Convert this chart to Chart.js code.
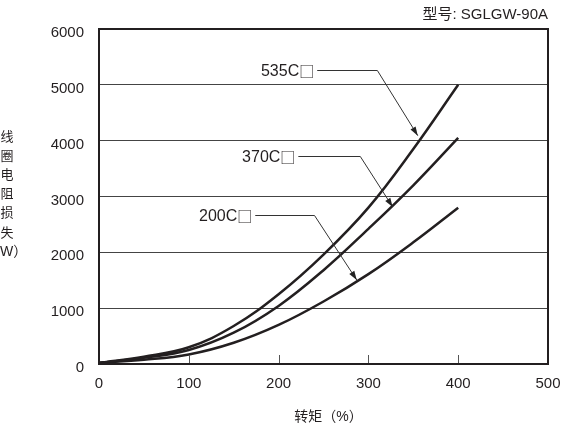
<!DOCTYPE html>
<html>
<head>
<meta charset="utf-8">
<script src="https://cdn.jsdelivr.net/npm/chart.js@4"></script>
<style>
  html, body { margin: 0; padding: 0; background: #fff; }
  #wrap { width: 571px; height: 424px; position: relative; }
</style>
</head>
<body>
<div id="wrap"><canvas id="chart"></canvas></div>
<script>
const TORQUE = [0, 50, 100, 150, 200, 250, 300, 350, 400];
const LOSS_535C = [20, 130, 300, 680, 1250, 1960, 2800, 3850, 5000];
const LOSS_370C = [20, 110, 250, 560, 1040, 1680, 2420, 3200, 4050];
const LOSS_200C = [20, 75, 170, 380, 700, 1120, 1610, 2180, 2800];
const X_TICKS = [0, 100, 200, 300, 400, 500];
const Y_TICKS = [0, 1000, 2000, 3000, 4000, 5000, 6000];

const MODEL = '型号: SGLGW-90A';
const X_TITLE = '转矩（%）';
const Y_TITLE = ['线', '圈', '电', '阻', '损', '失', '（W）'];

// callouts in data units: label, leader start, elbow, arrow tip
const callouts = [
  { name: '535C', box: '□', start: [243, 5270], elbow: [310, 5270], tip: [355, 4090] },
  { name: '370C', box: '□', start: [222, 3728], elbow: [291, 3728], tip: [327, 2814] },
  { name: '200C', box: '□', start: [174, 2670], elbow: [240, 2670], tip: [287, 1505] },
];

const INK = '#231f20';
const FONT = '"Liberation Sans", Arial, "Noto Sans CJK SC", sans-serif';
const CJK = '"Noto Sans CJK SC", sans-serif';

function series(values) {
  return TORQUE.map((t, i) => ({ x: t, y: values[i] }));
}

const decorations = {
  id: 'decorations',
  afterDatasetsDraw(chart) {
    const { ctx, chartArea: a, scales: { x, y } } = chart;
    ctx.save();

    // small inward ticks on the bottom axis
    ctx.strokeStyle = '#555';
    ctx.lineWidth = 1;
    [100, 200, 300, 400].forEach((v) => {
      const px = Math.round(x.getPixelForValue(v)) + 0.5;
      ctx.beginPath();
      ctx.moveTo(px, a.bottom);
      ctx.lineTo(px, a.bottom - 9);
      ctx.stroke();
    });

    // frame
    ctx.strokeStyle = INK;
    ctx.lineWidth = 2;
    ctx.strokeRect(a.left, a.top, a.right - a.left, a.bottom - a.top);

    // callouts
    ctx.textBaseline = 'middle';
    ctx.textAlign = 'right';
    callouts.forEach((c) => {
      const sx = x.getPixelForValue(c.start[0]);
      const sy = Math.round(y.getPixelForValue(c.start[1])) + 0.5;
      const ex = x.getPixelForValue(c.elbow[0]);
      const ey = Math.round(y.getPixelForValue(c.elbow[1])) + 0.5;
      const tx = x.getPixelForValue(c.tip[0]);
      const ty = y.getPixelForValue(c.tip[1]);
      ctx.fillStyle = INK;
      ctx.font = '15px ' + CJK;
      const bw = ctx.measureText(c.box).width;
      ctx.fillText(c.box, sx - 3, sy + 1);
      ctx.font = '16px ' + FONT;
      ctx.fillText(c.name, sx - 3 - bw, sy + 1);

      ctx.strokeStyle = '#333';
      ctx.lineWidth = 1;
      ctx.beginPath();
      ctx.moveTo(sx, sy);
      ctx.lineTo(ex, ey);
      ctx.lineTo(tx, ty);
      ctx.stroke();

      const ang = Math.atan2(ty - ey, tx - ex);
      const len = 9, half = 3;
      ctx.fillStyle = '#222';
      ctx.beginPath();
      ctx.moveTo(tx, ty);
      ctx.lineTo(tx - len * Math.cos(ang) + half * Math.sin(ang), ty - len * Math.sin(ang) - half * Math.cos(ang));
      ctx.lineTo(tx - len * Math.cos(ang) - half * Math.sin(ang), ty - len * Math.sin(ang) + half * Math.cos(ang));
      ctx.closePath();
      ctx.fill();
    });

    // titles
    ctx.fillStyle = INK;
    ctx.font = '15px ' + FONT;
    ctx.textAlign = 'right';
    ctx.fillText(MODEL, a.right, 15);

    ctx.font = '14px ' + FONT;
    ctx.textAlign = 'center';
    ctx.fillText(X_TITLE, (a.left + a.right) / 2 + 5, 417);

    Y_TITLE.forEach((ch, i) => {
      if (ch.length > 1) {
        ctx.font = '14px ' + FONT;
        ctx.textAlign = 'left';
        ctx.fillText(ch, -14, 137 + i * 19.2);
      } else {
        ctx.font = '13px ' + FONT;
        ctx.textAlign = 'center';
        ctx.fillText(ch, 7, 137 + i * 19.2);
      }
    });
    ctx.restore();
  },
};

new Chart(document.getElementById('chart'), {
  type: 'line',
  data: {
    datasets: [
      { label: '535C□', data: series(LOSS_535C) },
      { label: '370C□', data: series(LOSS_370C) },
      { label: '200C□', data: series(LOSS_200C) },
    ].map((d) => ({
      ...d,
      borderColor: INK,
      borderWidth: 2.5,
      pointRadius: 0,
      tension: 0.4,
      fill: false,
    })),
  },
  options: {
    responsive: true,
    maintainAspectRatio: false,
    animation: false,
    layout: { padding: { left: 0, right: 23, top: 29, bottom: 0 } },
    plugins: { legend: { display: false }, tooltip: { enabled: false } },
    scales: {
      x: {
        type: 'linear',
        min: 0,
        max: 500,
        afterBuildTicks: (s) => { s.ticks = X_TICKS.map((v) => ({ value: v })); },
        afterFit: (s) => { s.height = 60; },
        grid: { display: false },
        border: { display: false },
        ticks: { color: INK, font: { family: FONT, size: 15 }, padding: 3, maxRotation: 0, callback: (v) => String(v) },
      },
      y: {
        min: 0,
        max: 6000,
        afterBuildTicks: (s) => { s.ticks = Y_TICKS.map((v) => ({ value: v })); },
        afterFit: (s) => { s.width = 99; },
        grid: { color: '#444', lineWidth: 1, drawTicks: false },
        border: { display: false },
        ticks: { color: INK, font: { family: FONT, size: 15 }, padding: 15, labelOffset: 4, callback: (v) => String(v) },
      },
    },
  },
  plugins: [decorations],
});
</script>
</body>
</html>
